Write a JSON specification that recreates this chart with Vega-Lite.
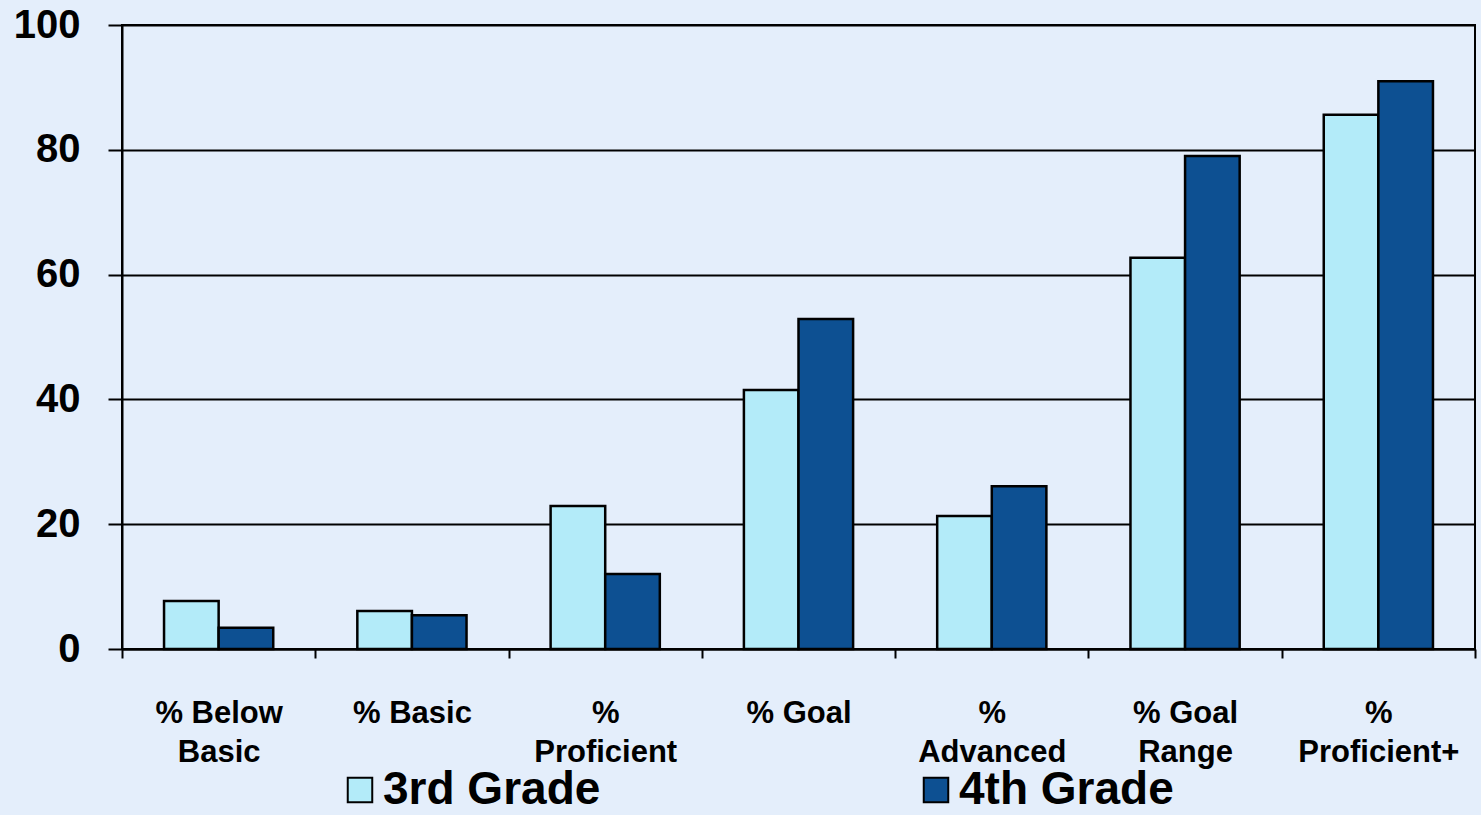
{
  "$schema": "https://vega.github.io/schema/vega-lite/v6.json",
  "width": 1353,
  "height": 624,
  "autosize": {"type": "none"},
  "padding": {"left": 122, "top": 25, "right": 6, "bottom": 166},
  "background": "#e4eefb",
  "config": {
    "view": {"stroke": "#000000", "strokeWidth": 2},
    "font": "Liberation Sans"
  },
  "data": {
    "values": [
      {"category": "% Below Basic", "grade": "3rd Grade", "value": 7.7},
      {"category": "% Below Basic", "grade": "4th Grade", "value": 3.4},
      {"category": "% Basic", "grade": "3rd Grade", "value": 6.1},
      {"category": "% Basic", "grade": "4th Grade", "value": 5.4},
      {"category": "% Proficient", "grade": "3rd Grade", "value": 22.9},
      {"category": "% Proficient", "grade": "4th Grade", "value": 12.0},
      {"category": "% Goal", "grade": "3rd Grade", "value": 41.5},
      {"category": "% Goal", "grade": "4th Grade", "value": 52.9},
      {"category": "% Advanced", "grade": "3rd Grade", "value": 21.3},
      {"category": "% Advanced", "grade": "4th Grade", "value": 26.1},
      {"category": "% Goal Range", "grade": "3rd Grade", "value": 62.7},
      {"category": "% Goal Range", "grade": "4th Grade", "value": 79.0},
      {"category": "% Proficient+", "grade": "3rd Grade", "value": 85.6},
      {"category": "% Proficient+", "grade": "4th Grade", "value": 91.0}
    ]
  },
  "mark": {"type": "bar", "stroke": "#000000", "strokeWidth": 2.5},
  "encoding": {
    "x": {
      "field": "category",
      "type": "nominal",
      "sort": null,
      "scale": {"paddingInner": 0, "paddingOuter": 0},
      "axis": {
        "title": null,
        "labelAngle": 0,
        "labelFont": "Liberation Sans",
        "labelFontWeight": "bold",
        "labelFontSize": 31,
        "labelColor": "#000000",
        "labelLineHeight": 39,
        "labelBaseline": "top",
        "labelPadding": 40,
        "labelLimit": 400,
        "labelExpr": "datum.label == '% Below Basic' ? ['% Below','Basic'] : datum.label == '% Proficient' ? ['%','Proficient'] : datum.label == '% Advanced' ? ['%','Advanced'] : datum.label == '% Goal Range' ? ['% Goal','Range'] : datum.label == '% Proficient+' ? ['%','Proficient+'] : datum.label",
        "tickBand": "extent",
        "tickSize": 9,
        "tickColor": "#000000",
        "tickWidth": 2,
        "domainColor": "#000000",
        "domainWidth": 2
      }
    },
    "xOffset": {
      "field": "grade",
      "type": "nominal",
      "scale": {"paddingInner": 0, "paddingOuter": 0.77}
    },
    "y": {
      "field": "value",
      "type": "quantitative",
      "scale": {"domain": [0, 100], "nice": false},
      "axis": {
        "title": null,
        "values": [0, 20, 40, 60, 80, 100],
        "labelFont": "Liberation Sans",
        "labelFontWeight": "bold",
        "labelFontSize": 40,
        "labelColor": "#000000",
        "labelPadding": 28,
        "tickSize": 14,
        "tickColor": "#000000",
        "tickWidth": 2,
        "grid": true,
        "gridColor": "#000000",
        "gridWidth": 2,
        "gridOpacity": 1,
        "domainColor": "#000000",
        "domainWidth": 2
      }
    },
    "color": {
      "field": "grade",
      "type": "nominal",
      "scale": {"domain": ["3rd Grade", "4th Grade"], "range": ["#b3ebf9", "#0d5092"]},
      "legend": {
        "title": null,
        "orient": "none",
        "direction": "horizontal",
        "legendX": 215,
        "legendY": 742,
        "symbolType": "square",
        "symbolSize": 600,
        "symbolStrokeColor": "#000000",
        "symbolStrokeWidth": 2,
        "symbolOffset": 0,
        "labelFont": "Liberation Sans",
        "labelFontWeight": "bold",
        "labelFontSize": 46,
        "labelColor": "#000000",
        "labelOffset": 0,
        "labelLimit": 500,
        "columnPadding": 312
      }
    }
  }
}
